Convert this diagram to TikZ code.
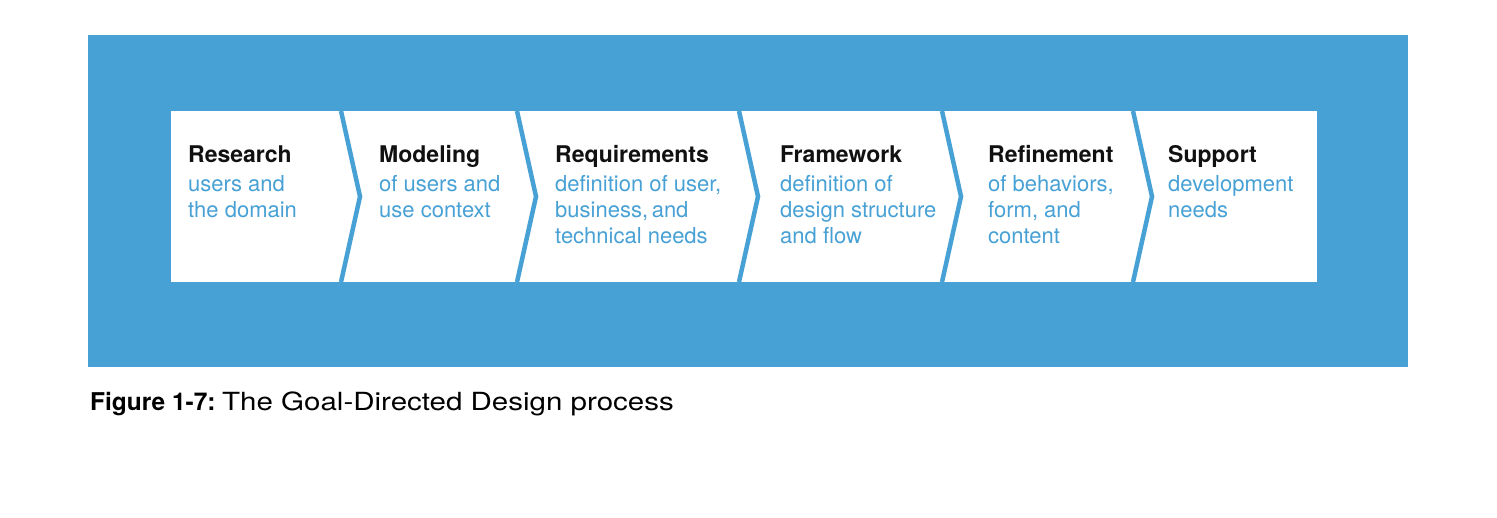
\documentclass[tikz,border=0pt]{standalone}
\usepackage{fontspec}
\setmainfont{TeX Gyre Heros}
\newfontfamily\capregular[FakeStretch=1.18]{TeX Gyre Heros}
\definecolor{gddblue}{RGB}{72,161,213}
\definecolor{gddtitle}{RGB}{17,17,17}
\newcommand{\desclines}[1]{\begin{tabular}[t]{@{}l@{}}#1\end{tabular}}
\tikzset{
  stagetitle/.style={anchor=base west, inner sep=0pt, text=gddtitle,
    font=\fontsize{23}{27}\selectfont\bfseries},
  stagedesc/.style={anchor=base west, inner sep=0pt, text=gddblue,
    font=\fontsize{22}{25.8}\selectfont},
  sepline/.style={draw=gddblue, line width=4.5pt, line join=miter},
  captionbold/.style={anchor=base west, inner sep=0pt, text=black,
    font=\fontsize{24.5}{30}\selectfont\bfseries},
  captionrest/.style={anchor=base west, inner sep=0pt, text=black,
    font=\capregular\fontsize{25}{30}\selectfont}
}
\begin{document}
\begin{tikzpicture}[x=1pt, y=-1pt]
\useasboundingbox (0,0) rectangle (1497,518);
% background panel and white strip
\fill[gddblue] (88,35) rectangle (1408,367);
\fill[white] (171,111) rectangle (1317,282);
% separators (chevrons)
\foreach \sx/\nm in {341/a,517/b,739/c,942/d,1133/e}{
  \coordinate (top\nm) at (\sx,111);
  \coordinate (tip\nm) at (\sx+19,196.5);
  \coordinate (bot\nm) at (\sx,282);
  \draw[sepline] (top\nm) -- (tip\nm) -- (bot\nm);
}
% stage titles
\node[stagetitle] (t1) at (188,162.7) {Research};
\node[stagetitle] (t2) at (379,162.7) {Modeling};
\node[stagetitle] (t3) at (555,162.7) {Requirements};
\node[stagetitle] (t4) at (780,162.7) {Framework};
\node[stagetitle] (t5) at (988,162.7) {Refinement};
\node[stagetitle] (t6) at (1168,162.7) {Support};
% stage descriptions
\node[stagedesc] (d1) at (188,191.7) {\desclines{users and\\the domain}};
\node[stagedesc] (d2) at (379,191.7) {\desclines{of users and\\use context}};
\node[stagedesc] (d3) at (555,191.7) {\desclines{definition of user,\\business,\,and\\technical needs}};
\node[stagedesc] (d4) at (780,191.7) {\desclines{definition of\\design structure\\and flow}};
\node[stagedesc] (d5) at (988,191.7) {\desclines{of behaviors,\\form, and\\content}};
\node[stagedesc] (d6) at (1168,191.7) {\desclines{development\\needs}};
% caption
\node[captionbold] (capa) at (90,411) {Figure 1-7:};
\node[captionrest] (capb) at (222,411) {The Goal-Directed Design process};
\end{tikzpicture}
\end{document}
